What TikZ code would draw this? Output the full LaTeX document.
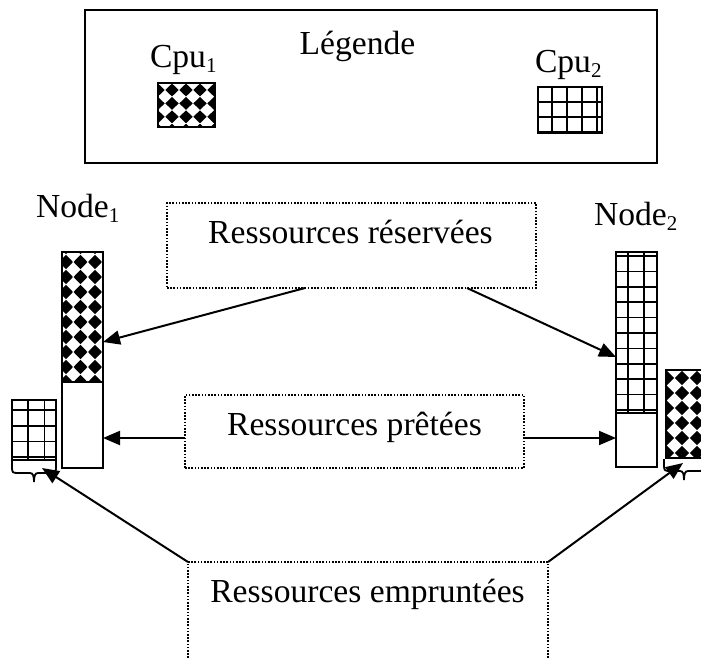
\documentclass[tikz,border=0pt]{standalone}
\usepackage{fontspec}
\setmainfont{Liberation Serif}
\usetikzlibrary{arrows.meta,calc}
\newcommand\bigtxt{\fontsize{33.6}{40}\selectfont}
\newcommand\subs[1]{\raisebox{-5pt}{\fontsize{21}{24}\selectfont #1}}
% diamond pattern: node, x0, y0, step x, step y
\newcommand\diapat[5]{%
  \begin{scope}
    \clip (#1.north west) rectangle (#1.south east);
    \foreach \i in {-1,...,6}{
      \foreach \j in {-1,...,12}{
        \fill ({#2+(\i)*#4},{#3+(\j)*#5}) +({-0.48*#4},0) -- +(0,{-0.48*#5}) -- +({0.48*#4},0) -- +(0,{0.48*#5}) -- cycle;
      }
    }
  \end{scope}}
% grid pattern: node, x0, y0, step x, step y
\newcommand\gridpat[5]{%
  \begin{scope}
    \clip (#1.north west) rectangle (#1.south east);
    \foreach \i in {-1,...,6}{
      \draw[gridline] ({#2+(\i)*#4},0) -- ({#2+(\i)*#4},700);
    }
    \foreach \j in {-1,...,12}{
      \draw[gridline] (0,{#3+(\j)*#5}) -- (720,{#3+(\j)*#5});
    }
  \end{scope}}
% brace under a box: left x, right x, top y
\newcommand\bracebelow[3]{%
  \draw[brc] (#1,#3) -- ({#1},{#3+7}) .. controls ({#1},{#3+11}) and ({#1+1},{#3+12}) .. ({#1+5},{#3+12})
    -- ({(#1+#2)/2-4},{#3+12}) .. controls ({(#1+#2)/2-1},{#3+12}) and ({(#1+#2)/2},{#3+15}) .. ({(#1+#2)/2},{#3+21})
    .. controls ({(#1+#2)/2},{#3+15}) and ({(#1+#2)/2+1},{#3+12}) .. ({(#1+#2)/2+4},{#3+12})
    -- ({#2-5},{#3+12}) .. controls ({#2-1},{#3+12}) and ({#2},{#3+11}) .. ({#2},{#3+7}) -- (#2,#3);}
\tikzset{
  box/.style={draw, line width=2pt, inner sep=0pt, outer sep=0pt, anchor=north west, rectangle},
  dotbox/.style={draw, line width=1.6pt, dash pattern=on 1.6pt off 1.6pt, inner sep=0pt, outer sep=0pt, anchor=north west, rectangle},
  lbl/.style={inner sep=0pt, outer sep=0pt, font=\bigtxt},
  gridline/.style={line width=1.6pt},
  arr/.style={line width=2pt, -{Triangle[length=17pt,width=14pt]}},
  brc/.style={line width=1.8pt},
}
\begin{document}
\begin{tikzpicture}[x=1pt,y=-1pt]
\path[use as bounding box] (0,0) rectangle (701,658);
\clip (0,0) rectangle (701,658);

% legend
\node[box, minimum width=572pt, minimum height=153pt] (legend) at (85,10) {};
\node[lbl, anchor=base] (tleg) at (357.5,55) {Légende};
\node[lbl, anchor=base west] (tc1) at (150,68) {Cpu\subs{1}};
\node[lbl, anchor=base west] (tc2) at (535,73) {Cpu\subs{2}};
\node[box, minimum width=57pt, minimum height=44pt] (c1box) at (158,83) {};
\node[box, minimum width=64pt, minimum height=46pt] (c2box) at (538,87) {};
\diapat{c1box}{158}{90}{14}{13.4}
\gridpat{c2box}{552}{102}{15}{15}

% node 1
\node[lbl, anchor=base west] (tn1) at (36,217) {Node\subs{1}};
\node[box, minimum width=41pt, minimum height=130pt] (n1top) at (62,252) {};
\node[box, minimum width=41pt, minimum height=86pt] (n1bot) at (62,382) {};
\node[box, minimum width=44pt, minimum height=60pt] (n1b) at (12,400) {};
\diapat{n1top}{66}{262}{14.5}{15}
\gridpat{n1b}{28}{410}{16.5}{15.7}
\bracebelow{12}{56}{461}

% node 2
\node[lbl, anchor=base west] (tn2) at (594,225) {Node\subs{2}};
\node[box, minimum width=41pt, minimum height=161pt] (n2top) at (616,252) {};
\node[box, minimum width=41pt, minimum height=54pt] (n2bot) at (616,413) {};
\node[box, minimum width=40pt, minimum height=88pt] (n2b) at (666,370) {};
\gridpat{n2top}{628}{256}{16}{15.4}
\diapat{n2b}{667}{378}{15}{15}
\bracebelow{664}{704}{459}

% dotted boxes
\node[dotbox, minimum width=369pt, minimum height=85pt] (res) at (167,203) {};
\node[lbl, anchor=base] (tres) at (350.5,243) {Ressources réservées};
\node[dotbox, minimum width=339pt, minimum height=73pt] (pre) at (185,395) {};
\node[lbl, anchor=base] (tpre) at (354.5,435) {Ressources prêtées};
\node[dotbox, minimum width=360pt, minimum height=120pt] (emp) at (188,562) {};
\node[lbl, anchor=base] (temp) at (367.5,602) {Ressources empruntées};

% connectors
\coordinate (r1) at ($(res.south west)+(138,0)$);
\coordinate (r2) at ($(res.south west)+(300,0)$);
\coordinate (pl) at ($(pre.south west)+(0,-30)$);
\coordinate (pr) at ($(pre.south east)+(0,-30)$);
\coordinate (bt1) at ($(n1b.south east)+(-14,8)$);
\coordinate (bt2) at ($(n2b.south west)+(17,5)$);
\draw[arr] (r1) -- ($(n1top.north east)+(0,90)$);
\draw[arr] (r2) -- ($(n2top.north west)+(0,105)$);
\draw[arr] (pl) -- (n1bot.east |- pl);
\draw[arr] (pr) -- (n2bot.west |- pr);
\draw[arr] (emp.north west) -- (bt1);
\draw[arr] (emp.north east) -- (bt2);
\end{tikzpicture}
\end{document}
